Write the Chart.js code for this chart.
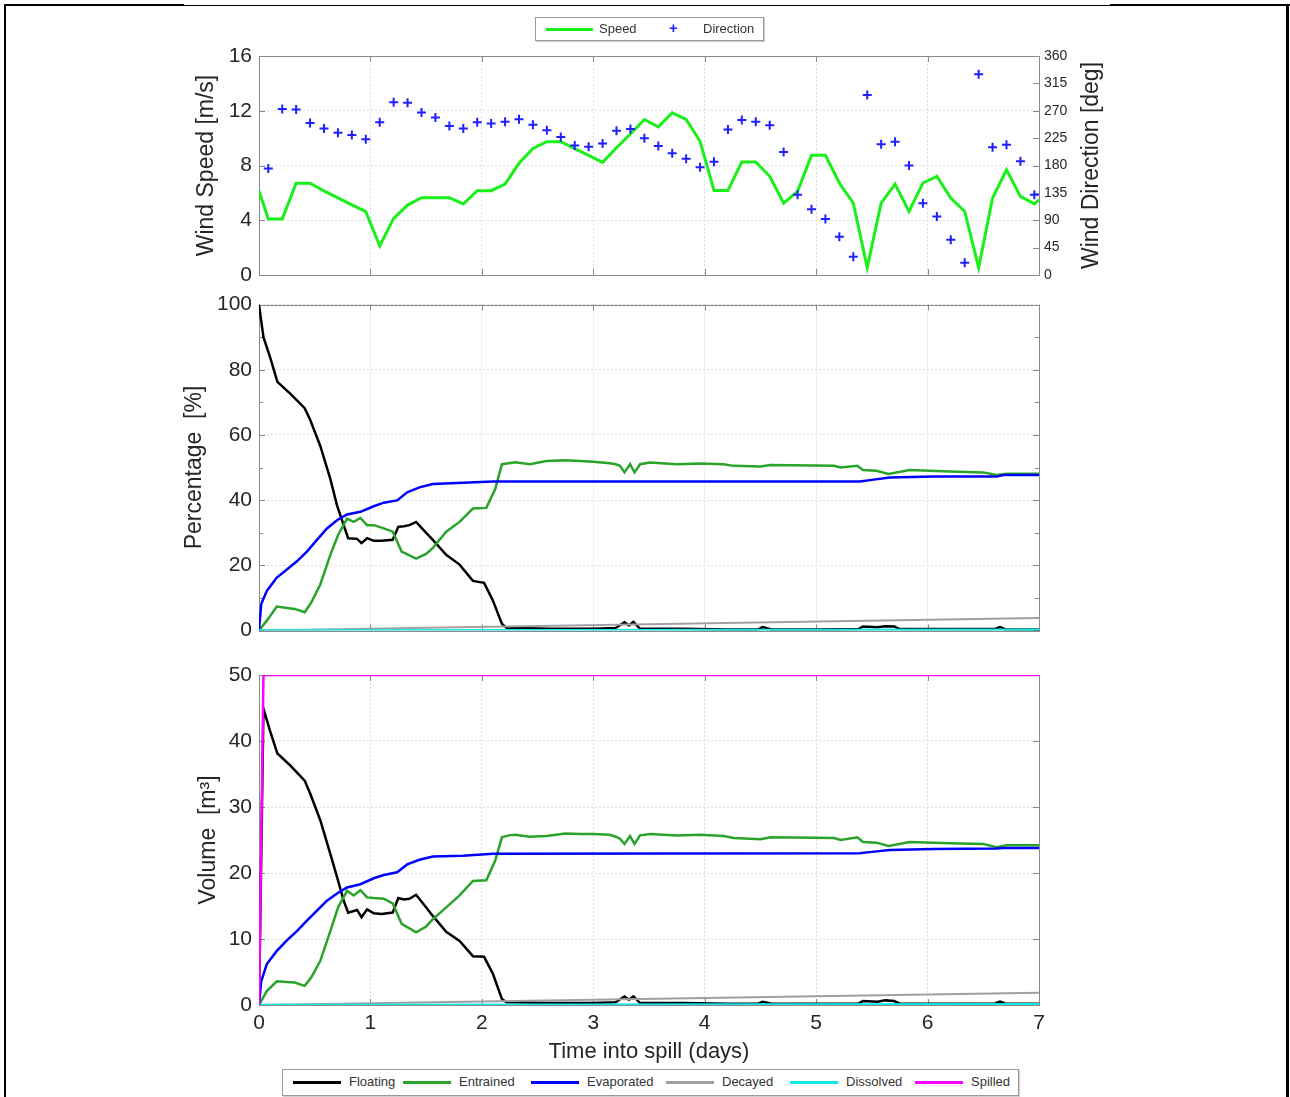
<!DOCTYPE html>
<html>
<head>
<meta charset="utf-8">
<title>Oil spill weathering</title>
<script src="https://cdn.jsdelivr.net/npm/chart.js@4.4.1/dist/chart.umd.min.js"></script>
<style>
  body { margin: 0; background: #fff; }
  #page { position: relative; width: 1290px; height: 1097px; overflow: hidden; background: #fff;
          font-family: "Liberation Sans", Arial, sans-serif; }
  .rule { position: absolute; background: #000; }
  canvas { position: absolute; }
  .legend { position: absolute; background: #fff; border: 1px solid #9a9a9a; box-sizing: border-box;
            box-shadow: 1px 1px 1px #d0d0d0; }
  .legend .swatch { position: absolute; height: 3px; }
  .legend .label { position: absolute; font-size: 13px; color: #333; line-height: 14px; white-space: nowrap; }
</style>
</head>
<body>
<div id="page">
  <!-- frame around the figure -->
  <div class="rule" style="left:4px;top:4px;width:180px;height:2px"></div>
  <div class="rule" style="left:184px;top:5px;width:926px;height:1px"></div>
  <div class="rule" style="left:1110px;top:4px;width:180px;height:2px"></div>
  <div class="rule" style="left:4px;top:4px;width:2px;height:1093px"></div>
  <div class="rule" style="left:1286px;top:4px;width:3px;height:1093px"></div>

  <canvas id="windChart" width="1000" height="265" style="left:150px;top:30px"></canvas>
  <canvas id="percentChart" width="1000" height="365" style="left:150px;top:285px"></canvas>
  <canvas id="volumeChart" width="1000" height="410" style="left:150px;top:655px"></canvas>

  <div class="legend" style="left:535px;top:17px;width:229px;height:24px">
    <div class="swatch" style="left:10px;top:10px;width:47px;background:#19f019"></div>
    <div class="label" style="left:63px;top:4px">Speed</div>
    <div class="label" style="left:133px;top:3px;color:#2020ff;font-size:15px;font-weight:bold">+</div>
    <div class="label" style="left:167px;top:4px">Direction</div>
  </div>

  <div class="legend" id="bottomLegend" style="left:282px;top:1069px;width:737px;height:27px"></div>
</div>

<script>
// ---- wind panel (3-hourly observations, hours since spill) ----
const windHours = [2, 5, 8, 11, 14, 17, 20, 23, 26, 29, 32, 35, 38, 41, 44, 47, 50, 53, 56, 59,
  62, 65, 68, 71, 74, 77, 80, 83, 86, 89, 92, 95, 98, 101, 104, 107, 110, 113, 116, 119,
  122, 125, 128, 131, 134, 137, 140, 143, 146, 149, 152, 155, 158, 161, 164, 167];
const windDirection = [175, 273, 272, 250, 241, 234, 230, 223, 251, 284, 283, 267, 259, 245, 241, 251, 249, 252, 256, 247,
  238, 227, 213, 211, 216, 237, 240, 225, 212, 200, 191, 177, 186, 239, 255, 252, 246, 202, 132, 108,
  92, 63, 30, 296, 215, 219, 180, 118, 96, 58, 20, 330, 210, 214, 187, 132];
const speedHours = [0, 2, 5, 8, 11, 14, 17, 20, 23, 26, 29, 32, 35, 38, 41, 44, 47, 50, 53, 56, 59,
  62, 65, 68, 71, 74, 77, 80, 83, 86, 89, 92, 95, 98, 101, 104, 107, 110, 113, 116, 119,
  122, 125, 128, 131, 134, 137, 140, 143, 146, 149, 152, 155, 158, 161, 164, 167, 168];
const windSpeed = [6.14, 4.09, 4.09, 6.70, 6.70, 6.14, 5.63, 5.12, 4.63, 2.12, 4.14, 5.11, 5.65, 5.65, 5.65, 5.19,
  6.16, 6.16, 6.65, 8.16, 9.25, 9.74, 9.74, 9.23, 8.74, 8.23, 9.30, 10.30, 11.36, 10.82, 11.85, 11.36,
  9.77, 6.18, 6.18, 8.26, 8.26, 7.21, 5.25, 6.11, 8.74, 8.74, 6.72, 5.25, 0.54, 5.25, 6.64, 4.64,
  6.72, 7.21, 5.62, 4.64, 0.54, 5.62, 7.69, 5.74, 5.20, 5.50];

// ---- mass balance (days since spill) ----
const floatingDays = [0, 0.04, 0.1, 0.165, 0.28, 0.41, 0.46, 0.55, 0.64, 0.70,
  0.76, 0.80, 0.88, 0.92, 0.97, 1.03, 1.1, 1.2, 1.25, 1.3,
  1.35, 1.41, 1.49, 1.56, 1.68, 1.80, 1.92, 2.02, 2.10, 2.18,
  2.22, 2.6, 3.0, 3.2, 3.28, 3.32, 3.36, 3.42, 3.8, 4.2,
  4.48, 4.52, 4.6, 5.0, 5.38, 5.42, 5.55, 5.62, 5.7, 5.75,
  6.6, 6.65, 6.7, 7.0];
const floatingPct = [100, 90, 83.8, 76.3, 72.7, 68.2, 64.6, 56.6, 46.5, 38.4,
  32.3, 28.3, 28.1, 26.8, 28.3, 27.5, 27.5, 27.8, 31.8, 32.0,
  32.3, 33.3, 30.3, 27.8, 23.2, 20.2, 15.2, 14.6, 9.1, 2.0,
  0.8, 0.5, 0.5, 0.7, 2.5, 1.5, 2.6, 0.5, 0.5, 0.3,
  0.3, 1.0, 0.3, 0.3, 0.4, 1.2, 1.0, 1.3, 1.2, 0.4,
  0.4, 1.0, 0.3, 0.3];
const floatingVol = [0, 44.9, 41.5, 38.1, 36.3, 34.0, 32.0, 28.0, 22.9, 19.4,
  15.8, 14.0, 14.4, 13.3, 14.5, 13.9, 13.8, 14.0, 16.2, 16.0,
  16.1, 16.7, 15.0, 13.5, 11.1, 9.7, 7.4, 7.3, 4.7, 0.9,
  0.4, 0.3, 0.3, 0.4, 1.3, 0.8, 1.3, 0.3, 0.3, 0.2,
  0.2, 0.5, 0.2, 0.2, 0.2, 0.6, 0.5, 0.7, 0.6, 0.2,
  0.2, 0.5, 0.2, 0.2];

const entrainedDays = [0, 0.07, 0.16, 0.25, 0.32, 0.41, 0.47, 0.55, 0.64, 0.71,
  0.79, 0.85, 0.91, 0.97, 1.03, 1.12, 1.2, 1.28, 1.41, 1.5,
  1.56, 1.68, 1.8, 1.92, 2.04, 2.12, 2.18, 2.24, 2.3, 2.43,
  2.58, 2.75, 2.88, 3.0, 3.15, 3.2, 3.24, 3.28, 3.33, 3.37,
  3.42, 3.51, 3.75, 3.96, 4.17, 4.26, 4.5, 4.59, 5.16, 5.22,
  5.37, 5.42, 5.54, 5.65, 5.84, 6.2, 6.5, 6.62, 6.71, 7.0];
const entrainedPct = [0, 3, 7.3, 6.9, 6.6, 5.6, 8.6, 14.1, 23.2, 29.3,
  34.3, 33.3, 34.5, 32.3, 32.3, 31.3, 30.3, 24.2, 22.0, 23.5,
  25.3, 30.3, 33.3, 37.4, 37.6, 43.4, 51.0, 51.3, 51.6, 51.0,
  52.0, 52.2, 52.0, 51.8, 51.3, 51.0, 50.5, 48.5, 51.0, 48.5,
  51.0, 51.5, 51.0, 51.2, 51.0, 50.5, 50.3, 50.8, 50.5, 50.0,
  50.5, 49.2, 49.0, 48.0, 49.2, 48.8, 48.5, 47.7, 48.1, 48.1];
const entrainedVol = [0, 2.1, 3.6, 3.5, 3.4, 2.9, 4.2, 6.7, 11.2, 14.8,
  17.3, 16.6, 17.4, 16.3, 16.2, 16.1, 15.4, 12.3, 11.0, 11.9,
  13.0, 14.8, 16.6, 18.8, 18.9, 21.9, 25.4, 25.7, 25.8, 25.5,
  25.6, 26.0, 25.9, 25.9, 25.8, 25.5, 25.2, 24.4, 25.6, 24.4,
  25.7, 25.9, 25.7, 25.8, 25.6, 25.3, 25.1, 25.4, 25.3, 25.0,
  25.4, 24.7, 24.6, 24.1, 24.7, 24.5, 24.4, 23.9, 24.2, 24.2];

const evaporatedDays = [0, 0.02, 0.07, 0.16, 0.25, 0.34, 0.43, 0.52, 0.61, 0.70,
  0.79, 0.91, 1.03, 1.12, 1.24, 1.33, 1.44, 1.56, 1.83, 2.1,
  5.39, 5.5, 5.66, 6.05, 6.62, 6.68, 7.0];
const evaporatedPct = [0, 8.1, 12.1, 16.2, 18.7, 21.2, 24.2, 27.8, 31.3, 33.8,
  35.6, 36.4, 38.1, 39.2, 39.9, 42.4, 43.9, 44.9, 45.3, 45.7,
  45.7, 46.2, 46.9, 47.2, 47.2, 47.7, 47.7];
const evaporatedVol = [0, 3.6, 6.2, 8.2, 9.8, 11.2, 12.8, 14.3, 15.8, 16.9,
  17.8, 18.3, 19.2, 19.7, 20.1, 21.3, 22.0, 22.5, 22.6, 22.9,
  23.0, 23.2, 23.5, 23.65, 23.7, 23.8, 23.8];

const decayedDays = [0, 7];
const decayedPct = [0, 3.8];
const decayedVol = [0, 1.85];

const dissolvedDays = [0, 7];
const dissolvedPct = [0, 0.2];
const dissolvedVol = [0, 0.1];

const spilledDays = [0, 0.04, 7];
const spilledVol = [0, 50, 50];

// ---- axis ticks ----
const dayTicks = [0, 1, 2, 3, 4, 5, 6, 7];
const speedTicks = [0, 4, 8, 12, 16];
const directionTicks = [0, 45, 90, 135, 180, 225, 270, 315, 360];
const percentTicks = [0, 20, 40, 60, 80, 100];
const percentMinorTicks = [10, 30, 50, 70, 90];
const volumeTicks = [0, 10, 20, 30, 40, 50];

const legendNames = ['Floating', 'Entrained', 'Evaporated', 'Decayed', 'Dissolved', 'Spilled'];
const legendColors = ['#000000', '#29a329', '#0000ff', '#a0a0a0', '#11e8e8', '#ff00ff'];

Chart.defaults.font.family = '"Liberation Sans", Arial, sans-serif';
Chart.defaults.color = '#262626';

const textColor = '#262626';
const gridColor = '#dedede';

function points(xs, ys, scaleX) {
    return xs.map((x, i) => ({ x: x * (scaleX || 1), y: ys[i] }));
}

function fixedTicks(list) {
    return scale => { scale.ticks = list.map(v => ({ value: v })); };
}

// Box round the plot with small inward ticks, drawn under the data like MATLAB does
const boxPlugin = {
    id: 'boxFrame',
    beforeDatasetsDraw(chart, args, opts) {
        const { ctx, chartArea: a, scales } = chart;
        const len = 6;
        ctx.save();
        ctx.strokeStyle = '#8a8a8a';
        ctx.lineWidth = 1;
        ctx.beginPath();
        dayTicks.forEach(v => {
            const px = Math.round(scales.x.getPixelForValue(v)) + 0.5;
            ctx.moveTo(px, a.top); ctx.lineTo(px, a.top + len);
            ctx.moveTo(px, a.bottom); ctx.lineTo(px, a.bottom - len);
        });
        (opts.leftTicks || []).forEach(v => {
            const py = Math.round(scales.y.getPixelForValue(v)) + 0.5;
            ctx.moveTo(a.left, py); ctx.lineTo(a.left + len, py);
            if (!opts.rightScale) { ctx.moveTo(a.right, py); ctx.lineTo(a.right - len, py); }
        });
        if (opts.rightScale) {
            opts.rightTicks.forEach(v => {
                const py = Math.round(scales[opts.rightScale].getPixelForValue(v)) + 0.5;
                ctx.moveTo(a.right, py); ctx.lineTo(a.right - len, py);
            });
        }
        (opts.minorTicks || []).forEach(v => {
            const py = Math.round(scales.y.getPixelForValue(v)) + 0.5;
            ctx.moveTo(a.right, py); ctx.lineTo(a.right - len + 2, py);
            ctx.moveTo(a.left, py); ctx.lineTo(a.left + len - 2, py);
        });
        ctx.stroke();
        ctx.strokeRect(Math.round(a.left) + 0.5, Math.round(a.top) + 0.5,
                       Math.round(a.width), Math.round(a.height));
        ctx.restore();
    }
};

// Right hand axis label that reads bottom to top
const sideTitlePlugin = {
    id: 'sideTitle',
    afterDraw(chart, args, opts) {
        if (!opts.text) return;
        const { ctx, chartArea: a } = chart;
        ctx.save();
        ctx.translate(opts.x, (a.top + a.bottom) / 2);
        ctx.rotate(-Math.PI / 2);
        ctx.font = '23px "Liberation Sans", Arial, sans-serif';
        ctx.fillStyle = textColor;
        ctx.textAlign = 'center';
        ctx.textBaseline = 'middle';
        ctx.fillText(opts.text, 0, 0);
        ctx.restore();
    }
};

function dayAxis(showLabels) {
    return {
        type: 'linear',
        min: 0,
        max: 7,
        afterBuildTicks: fixedTicks(dayTicks),
        afterFit: s => { s.height = showLabels ? 60 : 0; },
        ticks: { display: showLabels, font: { size: 21 }, color: textColor, padding: 6 },
        grid: { color: gridColor, drawTicks: false },
        border: { display: false, dash: [2, 2] },
        title: {
            display: showLabels,
            text: 'Time into spill (days)',
            font: { size: 22 },
            color: textColor,
            padding: { top: 0, bottom: 0 }
        }
    };
}

function leftAxis(max, ticks, title, titlePad) {
    return {
        position: 'left',
        min: 0,
        max: max,
        afterBuildTicks: fixedTicks(ticks),
        afterFit: s => { s.width = 109; },
        ticks: { font: { size: 21 }, color: textColor, padding: 7 },
        grid: { color: gridColor, drawTicks: false },
        border: { display: false, dash: [2, 2] },
        title: { display: true, text: title, font: { size: 23 }, color: textColor, padding: { top: titlePad } }
    };
}

const commonOptions = {
    responsive: false,
    animation: false,
    events: []
};

function line(label, xs, ys, color, width, order) {
    return {
        label: label,
        data: points(xs, ys),
        borderColor: color,
        backgroundColor: color,
        borderWidth: width,
        pointRadius: 0,
        tension: 0,
        order: order
    };
}

// ---- Wind speed and direction ----
new Chart(document.getElementById('windChart'), {
    type: 'line',
    data: {
        datasets: [
            {
                label: 'Direction',
                data: points(windHours, windDirection, 1 / 24),
                yAxisID: 'y2',
                showLine: false,
                pointStyle: 'cross',
                pointRadius: 4.5,
                pointBorderWidth: 2,
                borderColor: '#2020ff',
                backgroundColor: '#2020ff'
            },
            {
                label: 'Speed',
                data: points(speedHours, windSpeed, 1 / 24),
                yAxisID: 'y',
                borderColor: '#19f019',
                borderWidth: 3,
                pointRadius: 0,
                tension: 0
            }
        ]
    },
    options: {
        ...commonOptions,
        layout: { padding: { top: 26, bottom: 20, left: 0, right: 0 } },
        plugins: {
            legend: { display: false },
            tooltip: { enabled: false },
            boxFrame: { leftTicks: speedTicks, rightScale: 'y2', rightTicks: directionTicks },
            sideTitle: { text: 'Wind Direction [deg]', x: 942 }
        },
        scales: {
            x: dayAxis(false),
            y: leftAxis(16, speedTicks, 'Wind Speed [m/s]', 43),
            y2: {
                position: 'right',
                min: 0,
                max: 360,
                afterBuildTicks: fixedTicks(directionTicks),
                afterFit: s => { s.width = 111; },
                ticks: { font: { size: 14 }, color: textColor, padding: 5 },
                grid: { display: false, drawTicks: false },
                border: { display: false }
            }
        }
    },
    plugins: [boxPlugin, sideTitlePlugin]
});

// ---- Percentage ----
new Chart(document.getElementById('percentChart'), {
    type: 'line',
    data: {
        datasets: [
            line('Floating', floatingDays, floatingPct, legendColors[0], 2.5, 6),
            line('Entrained', entrainedDays, entrainedPct, legendColors[1], 2.5, 5),
            line('Evaporated', evaporatedDays, evaporatedPct, legendColors[2], 2.5, 4),
            line('Decayed', decayedDays, decayedPct, legendColors[3], 2, 3),
            line('Dissolved', dissolvedDays, dissolvedPct, legendColors[4], 2.5, 2)
        ]
    },
    options: {
        ...commonOptions,
        layout: { padding: { top: 15, bottom: 19, left: 0, right: 111 } },
        plugins: {
            legend: { display: false },
            tooltip: { enabled: false },
            boxFrame: { leftTicks: percentTicks, minorTicks: percentMinorTicks }
        },
        scales: {
            x: dayAxis(false),
            y: leftAxis(100, percentTicks, 'Percentage  [%]', 31)
        }
    },
    plugins: [boxPlugin]
});

// ---- Volume ----
new Chart(document.getElementById('volumeChart'), {
    type: 'line',
    data: {
        datasets: [
            line('Floating', floatingDays, floatingVol, legendColors[0], 2.5, 6),
            line('Entrained', entrainedDays, entrainedVol, legendColors[1], 2.5, 5),
            line('Evaporated', evaporatedDays, evaporatedVol, legendColors[2], 2.5, 4),
            line('Decayed', decayedDays, decayedVol, legendColors[3], 2, 3),
            line('Dissolved', dissolvedDays, dissolvedVol, legendColors[4], 2.5, 2),
            line('Spilled', spilledDays, spilledVol, legendColors[5], 2.5, 1)
        ]
    },
    options: {
        ...commonOptions,
        layout: { padding: { top: 20, bottom: 0, left: 0, right: 111 } },
        plugins: {
            legend: { display: false },
            tooltip: { enabled: false },
            boxFrame: { leftTicks: volumeTicks }
        },
        scales: {
            x: dayAxis(true),
            y: leftAxis(50, volumeTicks, 'Volume  [m³]', 45)
        }
    },
    plugins: [boxPlugin]
});

// ---- bottom legend ----
const legendBox = document.getElementById('bottomLegend');
const legendSwatchLeft = [10, 120, 248, 383, 507, 632];
legendNames.forEach((name, i) => {
    const sw = document.createElement('div');
    sw.className = 'swatch';
    sw.style.left = legendSwatchLeft[i] + 'px';
    sw.style.top = '11px';
    sw.style.width = '48px';
    sw.style.background = legendColors[i];
    legendBox.appendChild(sw);
    const lb = document.createElement('div');
    lb.className = 'label';
    lb.style.left = (legendSwatchLeft[i] + 56) + 'px';
    lb.style.top = '5px';
    lb.textContent = name;
    legendBox.appendChild(lb);
});
</script>
</body>
</html>
